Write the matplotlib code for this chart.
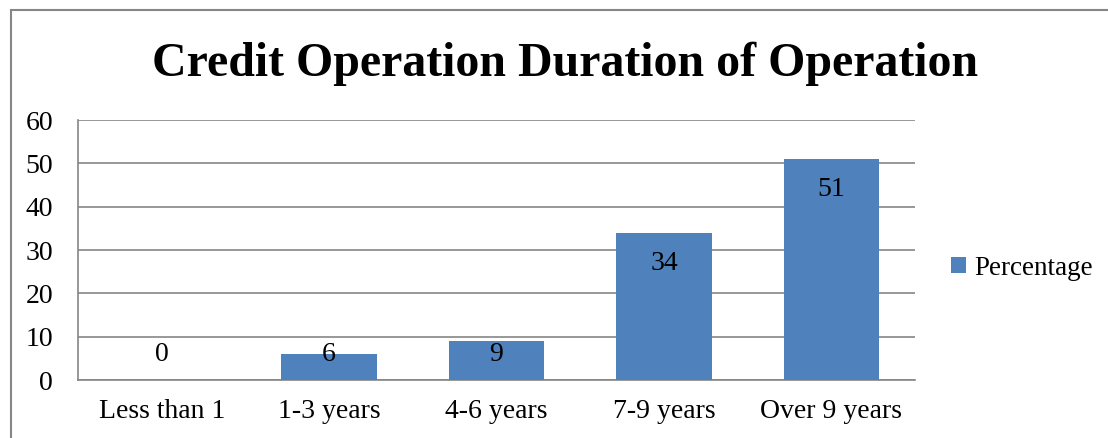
import matplotlib.pyplot as plt
from matplotlib.patches import Rectangle

categories = ['Less than 1', '1-3 years', '4-6 years', '7-9 years', 'Over 9 years']
percentage = [0, 6, 9, 34, 51]
y_ticks = [0, 10, 20, 30, 40, 50, 60]

plt.rcParams['font.family'] = ['Liberation Serif', 'DejaVu Serif']

fig = plt.figure(figsize=(11.08, 4.38), dpi=100)
fig.patches.append(Rectangle((11 / 1108, -0.1), 1.2, (438 - 10) / 438 + 0.1,
                             transform=fig.transFigure, fill=False,
                             edgecolor='#868686', linewidth=1.5))

ax = fig.add_axes([78 / 1108, 58 / 438, (915 - 78) / 1108, (380 - 120) / 438])
x = range(len(categories))
bars = ax.bar(x, percentage, width=0.57, color='#4F81BD', label='Percentage', zorder=3)

# labels sit inside the top of each bar, but never lower than a fixed floor
for xi, v in zip(x, percentage):
    ax.text(xi, max(v - 7, 5.8), str(v), ha='center', va='center', fontsize=20, zorder=4)

ax.set_xlim(-0.5, len(categories) - 0.5)
ax.set_ylim(0, 60)
ax.set_yticks(y_ticks)
ax.set_xticks(list(x))
ax.set_xticklabels(categories)
ax.tick_params(axis='both', length=0, labelsize=20)
ax.tick_params(axis='y', pad=18)
ax.tick_params(axis='x', pad=14)
ax.grid(axis='y', color='#868686', linewidth=1.2, zorder=0)
for s in ['top', 'right']:
    ax.spines[s].set_visible(False)
ax.spines['left'].set_color('#868686')
ax.spines['bottom'].set_color('#868686')
ax.spines['left'].set_linewidth(1.2)
ax.spines['bottom'].set_linewidth(1.2)

fig.text(565 / 1108, 1 - 64 / 438, 'Credit Operation Duration of Operation',
         ha='center', va='center', fontsize=34.5, fontweight='bold')

ax.legend(loc='center left', bbox_to_anchor=(1.03, 0.43), frameon=False,
          fontsize=19.5, handlelength=0.55, handleheight=0.55, handletextpad=0.3,
          borderaxespad=0)

fig.savefig('out.png', dpi=100)
